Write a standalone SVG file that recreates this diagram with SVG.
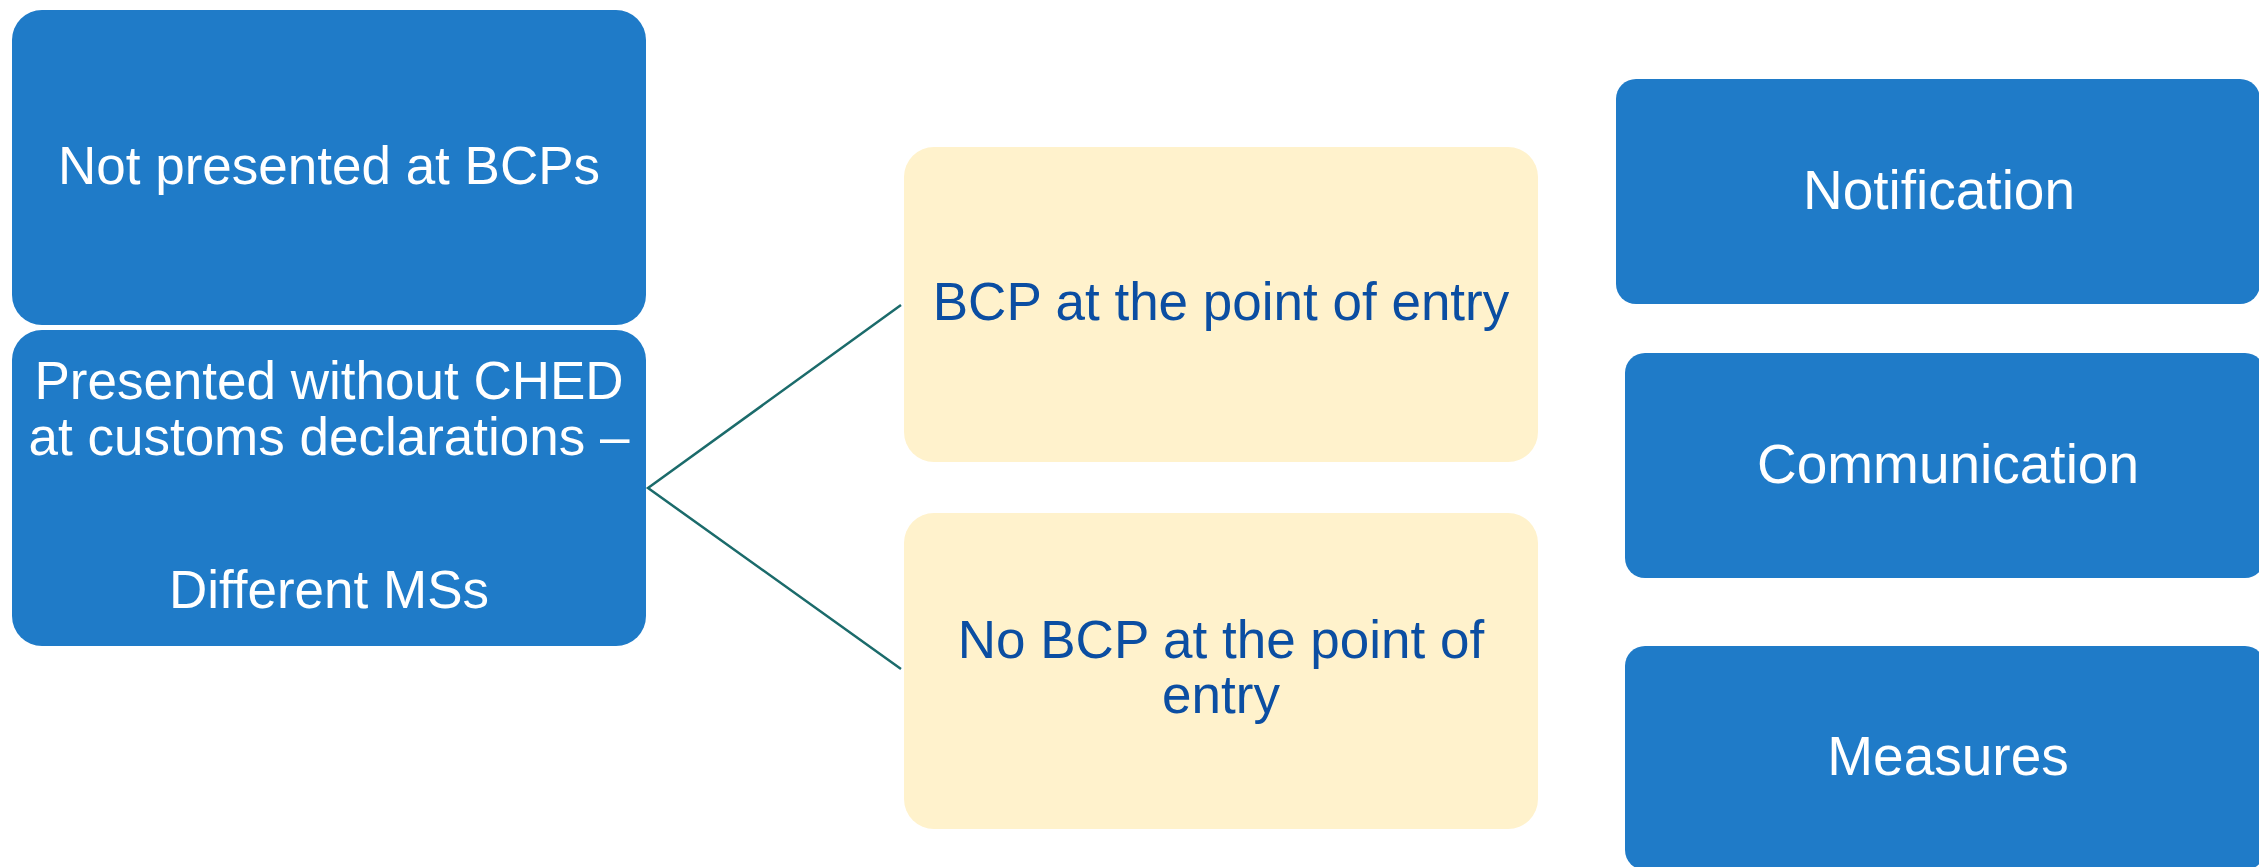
<svg xmlns="http://www.w3.org/2000/svg" width="2259" height="867" viewBox="0 0 2259 867">
<style>
.blue{fill:#1F7BC8}
.yel{fill:#FFF2CC}
.wt{fill:#FFFFFF;font-family:"Liberation Sans",Arial,sans-serif;text-anchor:middle}
.bt{fill:#0B4EA2;font-family:"Liberation Sans",Arial,sans-serif;font-size:53px;text-anchor:middle}
.conn{stroke:#1B6B6B;stroke-width:2.5;fill:none}
</style>
<rect width="2259" height="867" fill="#FFFFFF"/>
<g id="connectors">
<polyline class="conn" points="901,305 648,488 901,669"/>
</g>
<g id="not-presented">
<rect class="blue" x="12" y="10" width="634" height="315" rx="30" ry="30"/>
<text class="wt" x="329" y="184" font-size="53">Not presented at BCPs</text>
</g>
<g id="presented-without-ched">
<rect class="blue" x="12" y="330" width="634" height="316" rx="30" ry="30"/>
<text class="wt" x="329" y="399" font-size="53">Presented without CHED</text>
<text class="wt" x="329" y="455" font-size="53">at customs declarations –</text>
<text class="wt" x="329" y="608" font-size="53">Different MSs</text>
</g>
<g id="bcp-entry">
<rect class="yel" x="904" y="147" width="634" height="315" rx="30" ry="30"/>
<text class="bt" x="1221" y="320">BCP at the point of entry</text>
</g>
<g id="no-bcp-entry">
<rect class="yel" x="904" y="513" width="634" height="316" rx="30" ry="30"/>
<text class="bt" x="1221" y="658">No BCP at the point of</text>
<text class="bt" x="1221" y="713">entry</text>
</g>
<g id="notification">
<rect class="blue" x="1616" y="79" width="644" height="225" rx="20" ry="20"/>
<text class="wt" x="1939" y="209" font-size="55">Notification</text>
</g>
<g id="communication">
<rect class="blue" x="1625" y="353" width="640" height="225" rx="20" ry="20"/>
<text class="wt" x="1948" y="483" font-size="55">Communication</text>
</g>
<g id="measures">
<rect class="blue" x="1625" y="646" width="640" height="224" rx="20" ry="20"/>
<text class="wt" x="1948" y="775" font-size="55">Measures</text>
</g>
</svg>
